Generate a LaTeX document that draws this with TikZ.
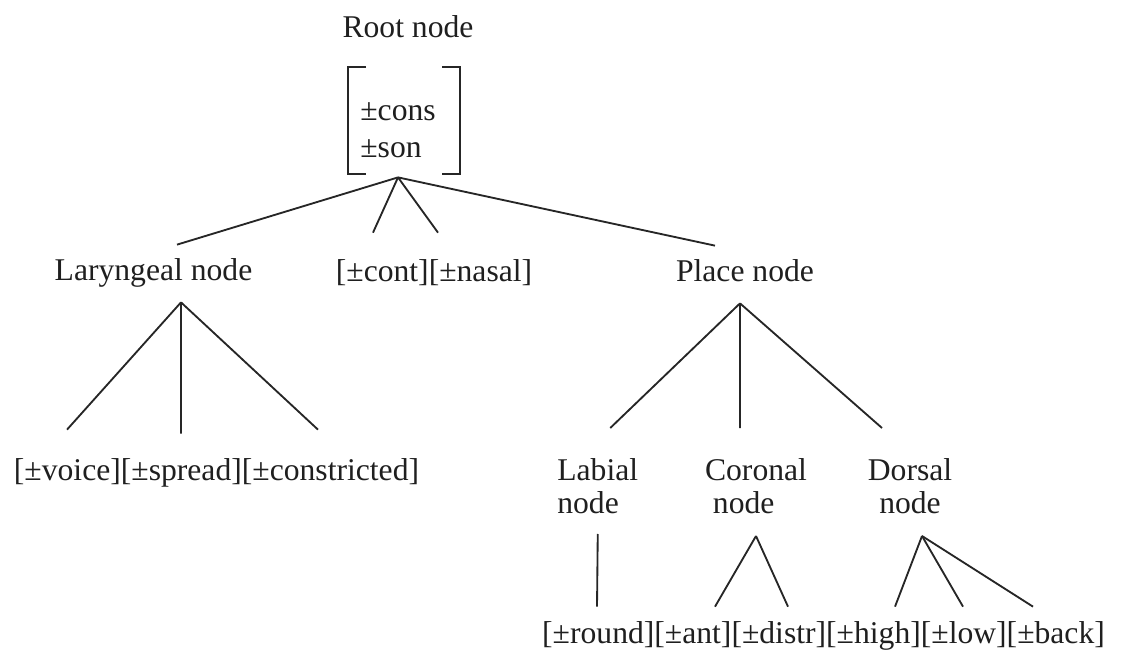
\documentclass[tikz,border=0pt]{standalone}
\usepackage{fontspec}
\setmainfont{Liberation Serif}
\usetikzlibrary{
    positioning, % placing nodes
    calc % shifted anchors
}

\begin{document}
\begin{tikzpicture}[
    font=\fontsize{18}{21}\selectfont,
    text=black!88,
    branch/.style={
        line width=1.05pt,
        draw=black!85
    },
    bracket/.style={
        line width=1.1pt,
        draw=black!85
    },
    treenode/.style={
        anchor=base,
        inner xsep=0pt,
        inner ysep=0.28cm,
        text height=0.44cm,
        text depth=0.14cm
    },
    twoline/.style={
        anchor=north,
        inner xsep=0pt,
        inner ysep=0.28cm,
        font=\fontsize{18}{18.8}\selectfont
    },
    feature/.style={
        anchor=west,
        align=left,
        inner xsep=0pt,
        inner ysep=0.38cm
    }
]
\useasboundingbox (0,0) rectangle (22.44,-13);

% Root
\node[treenode] (root) at (8.16,-0.76) {Root node};

\node[feature] (feat) at (7.2,-2.61)
{±cons\\
±son};

\draw[bracket]
([shift={(0.12,0.34)}]feat.north west) -- ++(-0.36,0) -- ++(0,-2.14) -- ++(0.36,0);
\draw[bracket]
([shift={(0.12,0.34)}]feat.north east) -- ++(0.36,0) -- ++(0,-2.14) -- ++(-0.36,0);

% First level
\node[treenode] (laryngeal) at (3.07,-5.62) {Laryngeal node};
\node[treenode] (contnasal) at (8.68,-5.64) {[±cont][±nasal]};
\node[treenode] (place) at (14.9,-5.64) {Place node};

% Laryngeal features
\node[treenode] (larfeat) at (4.33,-9.6) {[±voice][±spread][±constricted]};

% Articulator nodes
\node[twoline, anchor=north west, align=left] (labial) at (11.14,-8.88)
{Labial\\
node};
\node[twoline, align=left] (coronal) at (15.12,-8.88)
{Coronal\\
\hspace{0.25em}node};
\node[twoline, align=center] (dorsal) at (18.2,-8.88)
{Dorsal\\
node};

% Place features
\node[treenode] (placefeat) at (16.47,-12.86)
{[±round][±ant][±distr][±high][±low][±back]};

% Branches from root
\draw[branch] (feat.south) -- ([xshift=0.47cm]laryngeal.north);
\draw[branch] (feat.south) -- ([shift={(-1.22,0.26)}]contnasal.north);
\draw[branch] (feat.south) -- ([shift={(0.08,0.26)}]contnasal.north);
\draw[branch] (feat.south) -- ([xshift=-0.6cm]place.north);

% Laryngeal branches
\draw[branch] ([xshift=0.55cm]laryngeal.south) -- ([shift={(-2.99,0.28)}]larfeat.north);
\draw[branch] ([xshift=0.55cm]laryngeal.south) -- ([shift={(-0.71,0.2)}]larfeat.north);
\draw[branch] ([xshift=0.55cm]laryngeal.south) -- ([shift={(2.03,0.28)}]larfeat.north);

% Place branches
\draw[branch] ([xshift=-0.1cm]place.south) -- ([shift={(0.25,0.32)}]labial.north);
\draw[branch] ([xshift=-0.1cm]place.south) -- ([shift={(-0.32,0.32)}]coronal.north);
\draw[branch] ([xshift=-0.1cm]place.south) -- ([shift={(-0.56,0.32)}]dorsal.north);

% Articulator branches
\draw[branch] ([yshift=-0.12cm]labial.south) -- ([xshift=-4.53cm]placefeat.north);
\draw[branch] ([yshift=-0.16cm]coronal.south) -- ([xshift=-2.17cm]placefeat.north);
\draw[branch] ([yshift=-0.16cm]coronal.south) -- ([xshift=-0.71cm]placefeat.north);
\draw[branch] ([shift={(0.24,-0.16)}]dorsal.south) -- ([xshift=1.43cm]placefeat.north);
\draw[branch] ([shift={(0.24,-0.16)}]dorsal.south) -- ([xshift=2.79cm]placefeat.north);
\draw[branch] ([shift={(0.24,-0.16)}]dorsal.south) -- ([xshift=4.19cm]placefeat.north);

\end{tikzpicture}
\end{document}
